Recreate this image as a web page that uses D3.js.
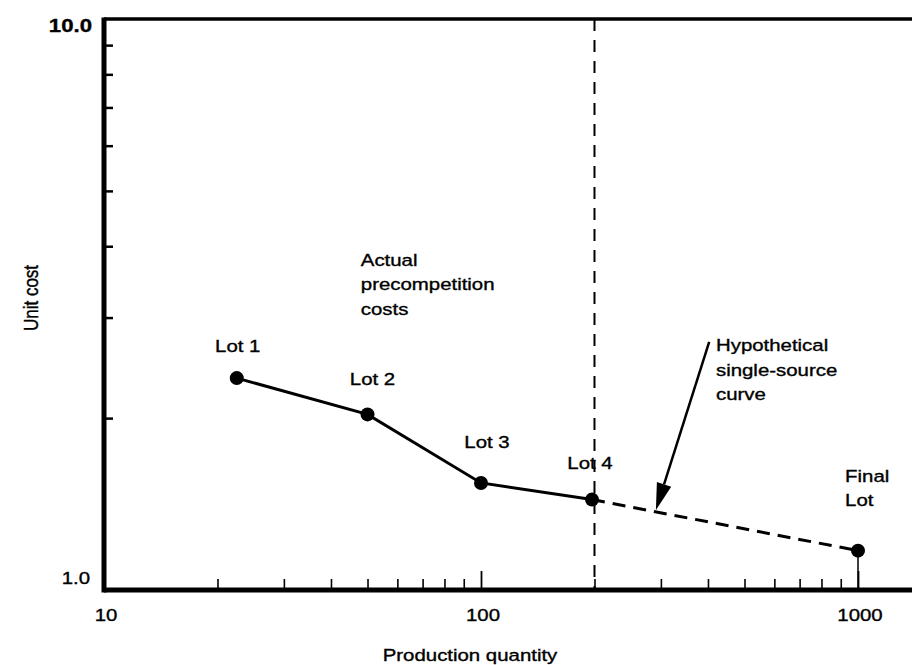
<!DOCTYPE html>
<html><head><meta charset="utf-8">
<script src="https://cdn.jsdelivr.net/npm/d3@7"></script>
<style>body{margin:0;background:#fff}svg{display:block}text{font-family:"Liberation Sans",Arial,Helvetica,sans-serif;fill:#000;stroke:#000;stroke-width:0.35px}</style>
</head><body><svg id="c" width="912" height="665"></svg>
<script>
// ---- data ----
const lotNames = ["Lot 1", "Lot 2", "Lot 3", "Lot 4"];
const lotQuantity = [22.5, 50, 100, 197];
const lotUnitCost = [2.35, 2.03, 1.54, 1.44];
const finalLotName = ["Final", "Lot"];
const finalLotQuantity = 1000;
const finalLotUnitCost = 1.172;
const competitionStartQuantity = 200;
const xTickLabels = ["10", "100", "1000"];
const xTickValues = [10, 100, 1000];
const yTickLabels = ["1.0", "10.0"];
const yTickValues = [1, 10];
const xMinorTicks = [20, 30, 40, 50, 60, 70, 80, 90, 200, 300, 400, 500, 600, 700, 800, 900];
const yMinorTicks = [2, 3, 4, 5, 6, 7, 8, 9];
const actualNote = ["Actual", "precompetition", "costs"];
const hypoNote = ["Hypothetical", "single-source", "curve"];
const xTitle = "Production quantity";
const yTitle = "Unit cost";

// annotation anchors (data space)
const actualNoteAt = [48, 3.7];
const hypoNoteAt = [420, 2.62];
const finalNoteAt = [924, 1.546];
const arrowFrom = [403, 2.72];
const arrowTo = [291, 1.38];

// ---- layout / style ----
const W = 912, H = 665;
const mLeft = 104, mRight = 858, mTop = 19, mBottom = 590;
const SX = 1.2; // horizontal stretch of the scanned text
const fs = 17;
const lotLabelOffsets = [[1, -26], [5, -29], [6, -35], [-2, -31]];

const svg = d3.select("#c");
const x = d3.scaleLog().domain([10, 1000]).range([mLeft, mRight]);
const y = d3.scaleLog().domain([1, 10]).range([mBottom, mTop]);

function txt(g, s, px, py, opts = {}) {
  return g.append("text")
    .attr("transform", `translate(${px},${py}) scale(${SX},1)` + (opts.rot ? ` rotate(${opts.rot})` : ""))
    .attr("text-anchor", opts.anchor || "start")
    .style("font-size", (opts.size || fs) + "px")
    .style("font-weight", opts.weight || "normal")
    .text(s);
}

// minor ticks
svg.append("g").attr("transform", `translate(0,${mBottom})`)
  .call(d3.axisTop(x).tickValues(xMinorTicks).tickSize(11).tickFormat(""))
  .call(g => g.select(".domain").remove())
  .call(g => g.selectAll("line").attr("stroke", "#000").attr("stroke-width", 1.6));
svg.append("g").attr("transform", `translate(0,${mBottom})`)
  .call(d3.axisTop(x).tickValues([100, 1000]).tickSize(19).tickFormat(""))
  .call(g => g.select(".domain").remove())
  .call(g => g.selectAll("line").attr("stroke", "#000").attr("stroke-width", 1.8));
svg.append("g").attr("transform", `translate(${mLeft},0)`)
  .call(d3.axisRight(y).tickValues(yMinorTicks).tickSize(9).tickFormat(""))
  .call(g => g.select(".domain").remove())
  .call(g => g.selectAll("line").attr("stroke", "#000").attr("stroke-width", 2.5));

// frame lines
svg.append("line").attr("x1", mLeft).attr("x2", W).attr("y1", y(10)).attr("y2", y(10))
  .attr("stroke", "#000").attr("stroke-width", 3.5);
svg.append("line").attr("x1", mLeft).attr("x2", W).attr("y1", y(1)).attr("y2", y(1))
  .attr("stroke", "#000").attr("stroke-width", 5);
svg.append("line").attr("x1", x(10)).attr("x2", x(10)).attr("y1", y(10) - 1.5).attr("y2", y(1) + 2.5)
  .attr("stroke", "#000").attr("stroke-width", 5);

// tick labels
xTickValues.forEach((v, i) => txt(svg, xTickLabels[i], x(v) + 2, 621, { anchor: "middle" }));
txt(svg, yTickLabels[0], 90, y(yTickValues[0]) - 6, { anchor: "end" });
txt(svg, yTickLabels[1], 92, y(yTickValues[1]) + 13, { anchor: "end", size: 18.5, weight: "bold" });

// axis titles
txt(svg, xTitle, 470, 661, { anchor: "middle" });
txt(svg, yTitle, 38, 298, { anchor: "middle", rot: -90 });

// vertical dashed line at start of competition
svg.append("line")
  .attr("x1", x(competitionStartQuantity)).attr("x2", x(competitionStartQuantity))
  .attr("y1", y(10)).attr("y2", y(1))
  .attr("stroke", "#000").attr("stroke-width", 2).attr("stroke-dasharray", "12,9");

// actual line
const lots = lotNames.map((n, i) => ({ name: n, q: lotQuantity[i], c: lotUnitCost[i] }));
const line = d3.line().x(d => x(d.q)).y(d => y(d.c));
svg.append("path").datum(lots).attr("d", line)
  .attr("fill", "none").attr("stroke", "#000").attr("stroke-width", 3);

// hypothetical projection
const proj = [lots[lots.length - 1], { q: finalLotQuantity, c: finalLotUnitCost }];
svg.append("path").datum(proj).attr("d", line)
  .attr("fill", "none").attr("stroke", "#000").attr("stroke-width", 3).attr("stroke-dasharray", "13,8");

// final lot drop line
svg.append("line").attr("x1", x(finalLotQuantity)).attr("x2", x(finalLotQuantity))
  .attr("y1", y(finalLotUnitCost)).attr("y2", y(1))
  .attr("stroke", "#000").attr("stroke-width", 1.5);

// points
svg.selectAll("circle.lot").data(lots.concat([{ q: finalLotQuantity, c: finalLotUnitCost }]))
  .enter().append("circle").attr("class", "lot")
  .attr("cx", d => x(d.q)).attr("cy", d => y(d.c)).attr("r", 7).attr("fill", "#000");

// lot labels
lots.forEach((d, i) => txt(svg, d.name, x(d.q) + lotLabelOffsets[i][0], y(d.c) + lotLabelOffsets[i][1], { anchor: "middle" }));

// notes
function note(lines, at) {
  lines.forEach((s, i) => txt(svg, s, x(at[0]), y(at[1]) + i * 24.5));
}
note(actualNote, actualNoteAt);
note(hypoNote, hypoNoteAt);
note(finalLotName, finalNoteAt);

// arrow
const ax0 = x(arrowFrom[0]), ay0 = y(arrowFrom[1]), ax1 = x(arrowTo[0]), ay1 = y(arrowTo[1]);
const len = Math.hypot(ax1 - ax0, ay1 - ay0);
const ux = (ax1 - ax0) / len, uy = (ay1 - ay0) / len;
const headL = 27, headW = 7.5;
const bx = ax1 - ux * headL, by = ay1 - uy * headL;
svg.append("line").attr("x1", ax0).attr("y1", ay0).attr("x2", bx).attr("y2", by)
  .attr("stroke", "#000").attr("stroke-width", 2.5);
svg.append("path")
  .attr("d", `M${ax1},${ay1}L${bx - uy * headW},${by + ux * headW}L${bx + uy * headW},${by - ux * headW}Z`)
  .attr("fill", "#000");
</script></body></html>
